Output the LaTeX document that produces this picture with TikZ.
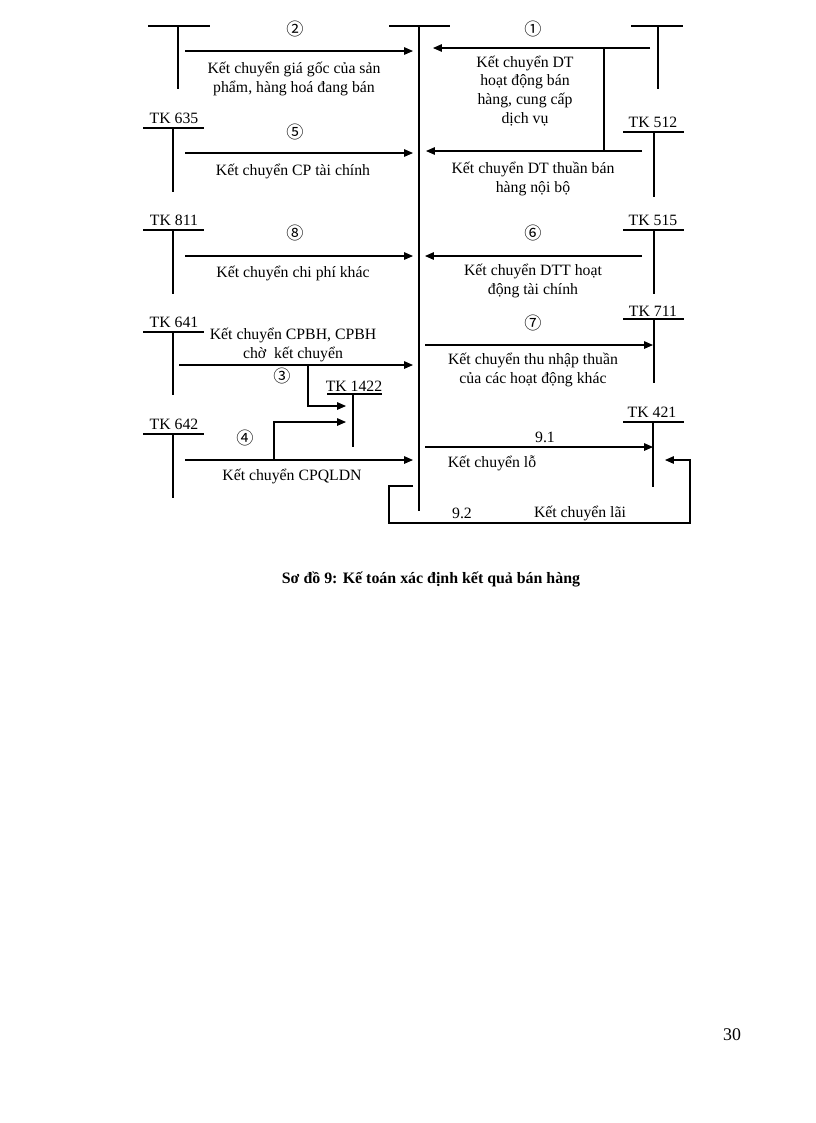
\documentclass[tikz,border=0pt]{standalone}
\usepackage{fontspec}
\setmainfont{Liberation Serif}
\newfontfamily\cjk{Noto Sans CJK SC}
\usetikzlibrary{arrows.meta}
\newcommand\lbfont{\fontsize{11.5}{13.6}\selectfont}
\newcommand\circfont{\cjk\fontsize{12.5}{15}\selectfont}
\begin{document}
\begin{tikzpicture}[x=0.7295pt,y=-0.7295pt,
  tline/.style={line width=1.1pt},
  arr/.style={line width=0.8pt,-{Triangle[length=6.5pt,width=5.5pt]}},
  cline/.style={line width=0.8pt},
  lbl/.style={font=\lbfont,inner sep=0pt,anchor=base,align=center},
  tk/.style={font=\lbfont,inner sep=0pt,anchor=base},
  circ/.style={font=\circfont,inner sep=0pt}]
\useasboundingbox (0,0) rectangle (816,1123);

% ---------- T accounts ----------
% central (TK 911)
\coordinate (cL) at (389,26); \coordinate (cR) at (450,26);
\coordinate (cT) at (419,26); \coordinate (cB) at (419,511);
\draw[tline] (cL) -- (cR); \draw[tline] (cT) -- (cB);
% top-left
\coordinate (tlL) at (148,26); \coordinate (tlR) at (210,26);
\coordinate (tlT) at (178,26); \coordinate (tlB) at (178,89);
\draw[tline] (tlL) -- (tlR); \draw[tline] (tlT) -- (tlB);
% top-right
\coordinate (trL) at (631,26); \coordinate (trR) at (683,26);
\coordinate (trT) at (658,26); \coordinate (trB) at (658,89);
\draw[tline] (trL) -- (trR); \draw[tline] (trT) -- (trB);
% TK 635
\node[tk] (l635) at (174,123) {TK 635};
\coordinate (a635L) at (143,128); \coordinate (a635R) at (204,128);
\coordinate (a635T) at (173,128); \coordinate (a635B) at (173,192);
\draw[tline] (a635L) -- (a635R); \draw[tline] (a635T) -- (a635B);
% TK 512
\node[tk] (l512) at (653,127) {TK 512};
\coordinate (a512L) at (623,132); \coordinate (a512R) at (684,132);
\coordinate (a512T) at (654,132); \coordinate (a512B) at (654,197);
\draw[tline] (a512L) -- (a512R); \draw[tline] (a512T) -- (a512B);
% TK 811
\node[tk] (l811) at (174,225) {TK 811};
\coordinate (a811L) at (143,230); \coordinate (a811R) at (204,230);
\coordinate (a811T) at (173,230); \coordinate (a811B) at (173,294);
\draw[tline] (a811L) -- (a811R); \draw[tline] (a811T) -- (a811B);
% TK 515
\node[tk] (l515) at (653,225) {TK 515};
\coordinate (a515L) at (623,230); \coordinate (a515R) at (684,230);
\coordinate (a515T) at (654,230); \coordinate (a515B) at (654,294);
\draw[tline] (a515L) -- (a515R); \draw[tline] (a515T) -- (a515B);
% TK 641
\node[tk] (l641) at (174,327) {TK 641};
\coordinate (a641L) at (143,332); \coordinate (a641R) at (204,332);
\coordinate (a641T) at (173,332); \coordinate (a641B) at (173,395);
\draw[tline] (a641L) -- (a641R); \draw[tline] (a641T) -- (a641B);
% TK 711
\node[tk] (l711) at (653,316) {TK 711};
\coordinate (a711L) at (623,319); \coordinate (a711R) at (684,319);
\coordinate (a711T) at (654,319); \coordinate (a711B) at (654,383);
\draw[tline] (a711L) -- (a711R); \draw[tline] (a711T) -- (a711B);
% TK 1422
\node[tk] (l1422) at (354,391) {TK 1422};
\coordinate (a1422L) at (327,394); \coordinate (a1422R) at (382,394);
\coordinate (a1422T) at (353,394); \coordinate (a1422B) at (353,447);
\draw[tline] (a1422L) -- (a1422R); \draw[tline] (a1422T) -- (a1422B);
% TK 642
\node[tk] (l642) at (174,429) {TK 642};
\coordinate (a642L) at (143,434); \coordinate (a642R) at (204,434);
\coordinate (a642T) at (173,434); \coordinate (a642B) at (173,498);
\draw[tline] (a642L) -- (a642R); \draw[tline] (a642T) -- (a642B);
% TK 421
\node[tk] (l421) at (652,417) {TK 421};
\coordinate (a421L) at (623,422); \coordinate (a421R) at (684,422);
\coordinate (a421T) at (653,422); \coordinate (a421B) at (653,487);
\draw[tline] (a421L) -- (a421R); \draw[tline] (a421T) -- (a421B);

% ---------- connectors ----------
% (2)
\coordinate (s2) at (185,51); \coordinate (e2) at (413,51);
\draw[arr] (s2) -- (e2);
\node[circ] (n2) at (295,29) {②};
\node[lbl] (t2) at (294,92) {Kết chuyển giá gốc của sản\\phẩm, hàng hoá đang bán};
% (1)
\coordinate (s1) at (650,48); \coordinate (e1) at (433,48);
\coordinate (b1a) at (604,48); \coordinate (b1b) at (604,151);
\draw[arr] (s1) -- (e1);
\draw[cline] (b1a) -- (b1b);
\node[circ] (n1) at (533,29) {①};
\node[lbl] (t1) at (525,123) {Kết chuyển DT\\hoạt động bán\\hàng, cung cấp\\dịch vụ};
% TK 512 -> centre
\coordinate (s12) at (642,151); \coordinate (e12) at (426,151);
\draw[arr] (s12) -- (e12);
\node[lbl] (t12) at (533,192) {Kết chuyển DT thuần bán\\hàng nội bộ};
% (5)
\coordinate (s5) at (185,153); \coordinate (e5) at (413,153);
\draw[arr] (s5) -- (e5);
\node[circ] (n5) at (295,132) {⑤};
\node[lbl] (t5) at (293,175) {Kết chuyển CP tài chính};
% (8)
\coordinate (s8) at (185,256); \coordinate (e8) at (413,256);
\draw[arr] (s8) -- (e8);
\node[circ] (n8) at (295,233) {⑧};
\node[lbl] (t8) at (293,277) {Kết chuyển chi phí khác};
% (6)
\coordinate (s6) at (642,256); \coordinate (e6) at (425,256);
\draw[arr] (s6) -- (e6);
\node[circ] (n6) at (533,233) {⑥};
\node[lbl] (t6) at (533,294) {Kết chuyển DTT hoạt\\động tài chính};
% (7)
\coordinate (s7) at (425,345); \coordinate (e7) at (653,345);
\draw[arr] (s7) -- (e7);
\node[circ] (n7) at (533,323) {⑦};
\node[lbl] (t7) at (533,383) {Kết chuyển thu nhập thuần\\của các hoạt động khác};
% (3)
\coordinate (s3) at (179,365); \coordinate (e3) at (413,365);
\coordinate (b3a) at (308,365); \coordinate (b3b) at (308,406); \coordinate (e3b) at (346,406);
\draw[arr] (s3) -- (e3);
\draw[arr] (b3a) -- (b3b) -- (e3b);
\node[circ] (n3) at (282,376) {③};
\node[lbl] (t3) at (293,358) {Kết chuyển CPBH, CPBH\\chờ\ \ kết chuyển};
% (4)
\coordinate (s4) at (185,460); \coordinate (e4) at (413,460);
\coordinate (b4a) at (274,460); \coordinate (b4b) at (274,422); \coordinate (e4b) at (346,422);
\draw[arr] (s4) -- (e4);
\draw[arr] (b4a) -- (b4b) -- (e4b);
\node[circ] (n4) at (245,438) {④};
\node[lbl] (t4) at (292,480) {Kết chuyển CPQLDN};
% 9.1
\coordinate (s91) at (425,447); \coordinate (e91) at (653,447);
\draw[arr] (s91) -- (e91);
\node[lbl] (n91) at (545,442) {9.1};
\node[lbl] (t91) at (492,467) {Kết chuyển lỗ};
% 9.2
\coordinate (s92) at (413,486); \coordinate (p92a) at (389,486);
\coordinate (p92b) at (389,523); \coordinate (p92c) at (690,523);
\coordinate (p92d) at (690,460); \coordinate (e92) at (665,460);
\draw[arr] (s92) -- (p92a) -- (p92b) -- (p92c) -- (p92d) -- (e92);
\node[lbl] (n92) at (462,518) {9.2};
\node[lbl] (t92) at (580,517) {Kết chuyển lãi};

% ---------- caption and page number ----------
\node[inner sep=0pt,anchor=base,font=\bfseries\fontsize{11.6}{14}\selectfont] (cap) at (431,583) {Sơ đồ 9: Kế toán xác định kết quả bán hàng};
\node[inner sep=0pt,anchor=base,font=\fontsize{13}{15}\selectfont] (page) at (732,1040) {30};
\end{tikzpicture}
\end{document}
